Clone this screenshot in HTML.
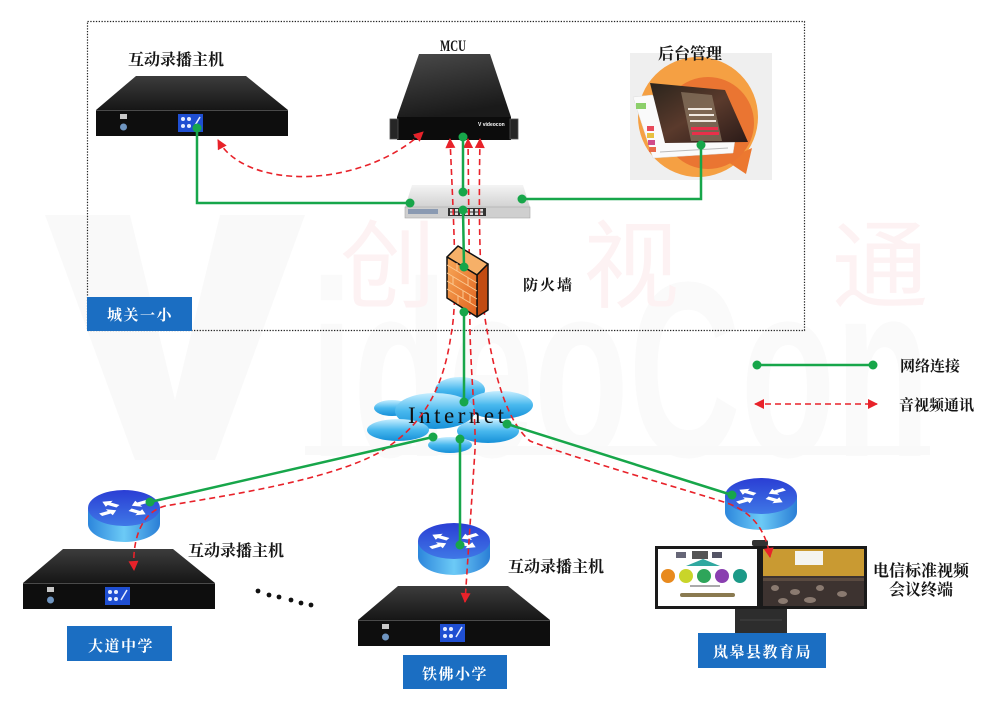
<!DOCTYPE html>
<html><head><meta charset="utf-8"><style>html,body{margin:0;padding:0;background:#fff;overflow:hidden}svg{display:block}</style></head>
<body>
<svg width="1000" height="701" viewBox="0 0 1000 701" xmlns="http://www.w3.org/2000/svg">
<defs>
<linearGradient id="recTop" x1="0" y1="0" x2="0" y2="1"><stop offset="0" stop-color="#3c3c3c"/><stop offset="1" stop-color="#161616"/></linearGradient>
<linearGradient id="mcuTop" x1="0" y1="0" x2="0.3" y2="1"><stop offset="0" stop-color="#4a4a4a"/><stop offset="1" stop-color="#1a1a1a"/></linearGradient>
<linearGradient id="swTop" x1="0" y1="0" x2="0" y2="1"><stop offset="0" stop-color="#f4f4f4"/><stop offset="1" stop-color="#d2d2d2"/></linearGradient>
<linearGradient id="rTop" x1="0" y1="0" x2="0" y2="1"><stop offset="0" stop-color="#2a3ed4"/><stop offset="1" stop-color="#3f78e6"/></linearGradient>
<linearGradient id="rSide" x1="0" y1="0" x2="1" y2="0"><stop offset="0" stop-color="#2c86dc"/><stop offset="0.5" stop-color="#6ccaf6"/><stop offset="1" stop-color="#2a7ed6"/></linearGradient>
<linearGradient id="cloudG" x1="0" y1="0" x2="0" y2="1"><stop offset="0" stop-color="#c6eeff"/><stop offset="0.5" stop-color="#48b8ee"/><stop offset="1" stop-color="#1690d8"/></linearGradient>
<linearGradient id="fwFront" x1="0" y1="0" x2="1" y2="1"><stop offset="0" stop-color="#f8a858"/><stop offset="1" stop-color="#e0621e"/></linearGradient>
<linearGradient id="scr" x1="0" y1="0" x2="1" y2="1"><stop offset="0" stop-color="#2a241c"/><stop offset="0.5" stop-color="#5a3a2c"/><stop offset="1" stop-color="#2a1a18"/></linearGradient>
<marker id="ah" viewBox="0 0 10 10" refX="9" refY="5" markerWidth="11" markerHeight="10" markerUnits="userSpaceOnUse" orient="auto-start-reverse"><path d="M0,0 L10,5 L0,10 z" fill="#e8222a"/></marker>
<g id="rec">
  <polygon points="40,-34 150,-34 192,0 0,0" fill="url(#recTop)"/>
  <rect x="0" y="0" width="192" height="26" fill="#0e0e0e"/>
  <line x1="0" y1="0.5" x2="192" y2="0.5" stroke="#4a4a4a" stroke-width="1"/>
  <rect x="82" y="4" width="25" height="18" fill="#1f4fd2"/>
  <circle cx="87" cy="9" r="2" fill="#e6eeff"/><circle cx="93" cy="9" r="2" fill="#e6eeff"/>
  <circle cx="87" cy="16" r="2" fill="#e6eeff"/><circle cx="93" cy="16" r="2" fill="#e6eeff"/>
  <path d="M98,17 L104,7" stroke="#e6eeff" stroke-width="1.5"/>
  <rect x="24" y="4" width="7" height="5" fill="#c8c8c8"/>
  <circle cx="27.5" cy="17" r="3.5" fill="#6f95c0"/>
</g>
<g id="router">
  <path d="M-36,0 L-36,16 A36,18 0 0 0 36,16 L36,0 Z" fill="url(#rSide)"/>
  <ellipse cx="0" cy="0" rx="36" ry="18" fill="url(#rTop)"/>
  <g transform="scale(1,0.5)" fill="#ffffff">
    <polygon transform="rotate(-150) translate(7,0)" points="0,-3 10,-3 10,-7 18,0 10,7 10,3 0,3"/>
    <polygon transform="rotate(30) translate(7,0)" points="0,-3 10,-3 10,-7 18,0 10,7 10,3 0,3"/>
    <polygon transform="rotate(-30) translate(27,0) rotate(180)" points="0,-3 10,-3 10,-7 18,0 10,7 10,3 0,3"/>
    <polygon transform="rotate(150) translate(27,0) rotate(180)" points="0,-3 10,-3 10,-7 18,0 10,7 10,3 0,3"/>
  </g>
</g>
</defs>

<rect width="1000" height="701" fill="#ffffff"/>

<!-- watermark -->
<polygon points="45,215 130,215 175,400 220,215 305,215 215,460 135,460" fill="#f9f9f9"/>
<text x="310" y="456" font-family="'Liberation Sans',sans-serif" font-weight="bold" font-size="250" fill="#fafafa" textLength="620" lengthAdjust="spacingAndGlyphs">ideoCon</text>
<rect x="305" y="446" width="625" height="9" fill="#f9f9f9"/>
<g font-family="'Noto Sans CJK SC','WenQuanYi Zen Hei',sans-serif" font-size="96" fill="#fdf2f3">
<text x="340" y="300">创</text><text x="583" y="300">视</text><text x="832" y="300">通</text>
</g>

<!-- dotted region -->
<rect x="87.5" y="21.5" width="717" height="309" fill="none" stroke="#222" stroke-width="1.2" stroke-dasharray="1.3 1.5"/>
<rect x="87" y="297" width="105" height="34" fill="#1b6ec2"/>

<!-- MCU -->
<polygon points="419,54 490,54 511,117 397,117" fill="url(#mcuTop)"/>
<rect x="397" y="117" width="114" height="23" fill="#0c0c0c"/>
<rect x="390" y="119" width="8" height="20" fill="#262626" stroke="#555" stroke-width="0.8"/>
<rect x="510" y="119" width="8" height="20" fill="#262626" stroke="#555" stroke-width="0.8"/>
<text x="478" y="126" font-family="'Liberation Sans',sans-serif" font-size="5" font-weight="bold" fill="#fff">V videocon</text>
<circle cx="416" cy="136" r="2" fill="#555"/>

<!-- backend management -->
<rect x="630" y="53" width="142" height="127" fill="#efefef"/>
<circle cx="698" cy="117" r="60" fill="#f5a043"/>
<polygon points="725,160 746,174 752,148" fill="#ec7830"/>
<circle cx="708" cy="123" r="46" fill="#ea7532"/>
<polygon points="633,97 652,95 735,140 733,153 653,158" fill="#fafafa" stroke="#ddd" stroke-width="0.5"/>
<rect x="636" y="103" width="10" height="6" fill="#8ccf6a"/>
<rect x="647" y="126" width="7" height="5" fill="#e84a5a"/><rect x="647" y="133" width="7" height="5" fill="#e8c040"/>
<rect x="648" y="140" width="7" height="5" fill="#d04a8a"/><rect x="649" y="147" width="7" height="5" fill="#e86a4a"/>
<line x1="660" y1="152" x2="728" y2="148" stroke="#bbb" stroke-width="1"/>
<polygon points="650,83 725,90 748,142 665,143" fill="url(#scr)"/>
<polygon points="681,92 712,95 722,141 691,141" fill="#8a7560" opacity="0.75"/>
<rect x="688" y="108" width="24" height="2" fill="#f0e8e0"/><rect x="689" y="114" width="25" height="2" fill="#f0e8e0"/>
<rect x="690" y="120" width="26" height="2" fill="#f0e8e0"/>
<rect x="691" y="127" width="27" height="3" fill="#e8304a"/><rect x="692" y="132" width="27" height="3" fill="#e8304a"/>

<!-- switch -->
<polygon points="412,185 523,185 530,207 405,207" fill="url(#swTop)"/>
<rect x="405" y="207" width="125" height="11" fill="#cfcfcf" stroke="#a8a8a8" stroke-width="0.6"/>
<rect x="408" y="209" width="30" height="5" fill="#8a9ab2"/>
<rect x="448" y="208" width="38" height="8" fill="#333"/>
<g fill="#ddd"><rect x="450" y="209" width="3" height="2.5"/><rect x="455" y="209" width="3" height="2.5"/><rect x="460" y="209" width="3" height="2.5"/><rect x="465" y="209" width="3" height="2.5"/><rect x="470" y="209" width="3" height="2.5"/><rect x="475" y="209" width="3" height="2.5"/><rect x="480" y="209" width="3" height="2.5"/>
<rect x="450" y="212.5" width="3" height="2.5"/><rect x="455" y="212.5" width="3" height="2.5"/><rect x="460" y="212.5" width="3" height="2.5"/><rect x="465" y="212.5" width="3" height="2.5"/><rect x="470" y="212.5" width="3" height="2.5"/><rect x="475" y="212.5" width="3" height="2.5"/><rect x="480" y="212.5" width="3" height="2.5"/></g>

<!-- cloud -->
<g fill="url(#cloudG)">
<ellipse cx="460" cy="390" rx="25" ry="13"/>
<ellipse cx="500" cy="405" rx="33" ry="14"/>
<ellipse cx="392" cy="408" rx="18" ry="8"/>
<ellipse cx="435" cy="411" rx="40" ry="18"/>
<ellipse cx="398" cy="430" rx="31" ry="11"/>
<ellipse cx="488" cy="431" rx="31" ry="12"/>
<ellipse cx="450" cy="445" rx="22" ry="8"/>
</g>
<text x="408" y="423" font-family="'Liberation Serif',serif" font-size="23" fill="#111" textLength="96" lengthAdjust="spacing">Internet</text>

<!-- routers -->
<use href="#router" transform="translate(124,508)"/>
<use href="#router" transform="translate(454,541)"/>
<use href="#router" transform="translate(761,496)"/>

<!-- recorders -->
<use href="#rec" transform="translate(96,110)"/>
<use href="#rec" transform="translate(23,583)"/>
<use href="#rec" transform="translate(358,620)"/>

<!-- terminal -->
<rect x="752" y="540" width="16" height="6" rx="2" fill="#333"/>
<rect x="735" y="609" width="52" height="26" fill="#2d2d2d"/>
<line x1="740" y1="620" x2="782" y2="620" stroke="#444"/>
<rect x="655" y="546" width="105" height="63" fill="#1a1a1a"/>
<rect x="658" y="549" width="99" height="57" fill="#ffffff"/>
<rect x="676" y="552" width="10" height="6" fill="#667"/><rect x="692" y="551" width="16" height="8" fill="#555"/><rect x="712" y="552" width="10" height="6" fill="#556"/>
<polygon points="686,566 703,559 720,566" fill="#30a8a0"/>
<circle cx="668" cy="576" r="7" fill="#e88a1e"/><circle cx="686" cy="576" r="7" fill="#c9d52a"/>
<circle cx="704" cy="576" r="7" fill="#2ea55a"/><circle cx="722" cy="576" r="7" fill="#8a3fb0"/>
<circle cx="740" cy="576" r="7" fill="#1c9a88"/>
<rect x="690" y="585" width="30" height="2" fill="#aaa"/>
<rect x="680" y="593" width="55" height="4" rx="2" fill="#8a7a50"/>
<rect x="760" y="546" width="107" height="63" fill="#1a1a1a"/>
<rect x="763" y="549" width="101" height="30" fill="#c99a32"/>
<rect x="795" y="551" width="28" height="14" fill="#f4f4f0"/>
<rect x="763" y="576" width="101" height="30" fill="#3d3330"/>
<g fill="#8a7a70"><ellipse cx="775" cy="588" rx="4" ry="3"/><ellipse cx="795" cy="592" rx="5" ry="3"/><ellipse cx="820" cy="588" rx="4" ry="3"/><ellipse cx="842" cy="594" rx="5" ry="3"/><ellipse cx="810" cy="600" rx="6" ry="3"/><ellipse cx="783" cy="601" rx="5" ry="3"/></g>
<rect x="763" y="578" width="101" height="3" fill="#5a4a40"/>

<!-- red dashed connections -->
<g fill="none" stroke="#e8222a" stroke-width="1.6" stroke-dasharray="6 4">
<path d="M218,140 C245,190 360,190 423,132" marker-start="url(#ah)" marker-end="url(#ah)"/>
<path d="M450,139 C454,230 458,300 451,335 C444,385 425,425 380,452 C330,480 230,495 165,506 C142,512 132,538 134,570" marker-start="url(#ah)" marker-end="url(#ah)"/>
<path d="M468,139 L470,330 C471,380 476,420 475,450 L465,602" marker-start="url(#ah)" marker-end="url(#ah)"/>
<path d="M480,139 C478,240 481,300 487,330 C494,370 505,420 530,441 C580,460 680,488 727,503 C752,512 766,530 770,557" marker-start="url(#ah)" marker-end="url(#ah)"/>
<path d="M755,404 L877,404" marker-start="url(#ah)" marker-end="url(#ah)"/>
</g>

<!-- firewall -->
<polygon points="447,257 458,246 488,264 477,275" fill="#f6b068" stroke="#111" stroke-width="1.5" stroke-linejoin="round"/>
<polygon points="477,275 488,264 488,310 477,317" fill="#c24c12" stroke="#111" stroke-width="1.5" stroke-linejoin="round"/>
<polygon points="447,257 477,275 477,317 447,298" fill="url(#fwFront)" stroke="#111" stroke-width="1.5" stroke-linejoin="round"/>
<g stroke="#fbc890" stroke-width="1">
<line x1="447" y1="265" x2="477" y2="283"/><line x1="447" y1="273" x2="477" y2="291"/><line x1="447" y1="281" x2="477" y2="299"/><line x1="447" y1="289" x2="477" y2="307"/>
<line x1="457" y1="263" x2="457" y2="271"/><line x1="468" y1="278" x2="468" y2="286"/><line x1="453" y1="277" x2="453" y2="285"/><line x1="463" y1="291" x2="463" y2="299"/><line x1="458" y1="296" x2="458" y2="304"/><line x1="470" y1="295" x2="470" y2="303"/>
</g>

<!-- green network lines -->
<g fill="none" stroke="#17a64a" stroke-width="2.5">
<polyline points="197,128 197,203 410,203"/>
<line x1="463" y1="137" x2="463" y2="192"/>
<polyline points="522,199 701,199 701,145"/>
<line x1="463" y1="210" x2="464" y2="267"/>
<line x1="464" y1="312" x2="464" y2="402"/>
<line x1="433" y1="437" x2="150" y2="502"/>
<line x1="460" y1="439" x2="460" y2="545"/>
<line x1="507" y1="424" x2="732" y2="495"/>
<line x1="757" y1="365" x2="873" y2="365"/>
</g>
<g fill="#17a64a">
<circle cx="197" cy="128" r="4.5"/><circle cx="410" cy="203" r="4.5"/>
<circle cx="463" cy="137" r="4.5"/><circle cx="463" cy="192" r="4.5"/><circle cx="463" cy="210" r="4.5"/>
<circle cx="522" cy="199" r="4.5"/><circle cx="701" cy="145" r="4.5"/>
<circle cx="464" cy="267" r="4.5"/><circle cx="464" cy="312" r="4.5"/><circle cx="464" cy="402" r="4.5"/>
<circle cx="433" cy="437" r="4.5"/><circle cx="460" cy="439" r="4.5"/><circle cx="507" cy="424" r="4.5"/>
<circle cx="150" cy="502" r="4.5"/><circle cx="460" cy="545" r="4.5"/><circle cx="732" cy="495" r="4.5"/>
<circle cx="757" cy="365" r="4.5"/><circle cx="873" cy="365" r="4.5"/>
</g>

<!-- blue site boxes -->
<rect x="67" y="626" width="105" height="35" fill="#1b6ec2"/>
<rect x="403" y="655" width="104" height="34" fill="#1b6ec2"/>
<rect x="698" y="633" width="128" height="35" fill="#1b6ec2"/>

<!-- ellipsis dots -->
<g fill="#111"><circle cx="258" cy="591" r="2.4"/><circle cx="269" cy="595" r="2.4"/><circle cx="279" cy="597" r="2.4"/><circle cx="291" cy="600" r="2.4"/><circle cx="301" cy="603" r="2.4"/><circle cx="311" cy="605" r="2.4"/></g>

<!-- labels -->
<g font-family="'Liberation Serif','Noto Serif CJK SC',serif" font-weight="bold" fill="#151515">
<text x="128" y="65" font-size="16">互动录播主机</text>
<text x="440" y="51" font-size="16" textLength="26" lengthAdjust="spacingAndGlyphs">MCU</text>
<text x="658" y="59" font-size="16">后台管理</text>
<text x="523" y="290" font-size="15" letter-spacing="2">防火墙</text>
<text x="188" y="556" font-size="16">互动录播主机</text>
<text x="508" y="572" font-size="16">互动录播主机</text>
<text x="873" y="576" font-size="16">电信标准视频</text>
<text x="889" y="595" font-size="16">会议终端</text>
<text x="900" y="371" font-size="15">网络连接</text>
<text x="899" y="410" font-size="15">音视频通讯</text>
</g>
<g font-family="'Liberation Serif','Noto Serif CJK SC',serif" font-weight="bold" fill="#ffffff" font-size="15">
<text x="107" y="320" letter-spacing="1.5">城关一小</text>
<text x="88" y="651" letter-spacing="1.5">大道中学</text>
<text x="422" y="679" letter-spacing="1.5">铁佛小学</text>
<text x="713" y="657" letter-spacing="1.5">岚皋县教育局</text>
</g>
</svg>
</body></html>
